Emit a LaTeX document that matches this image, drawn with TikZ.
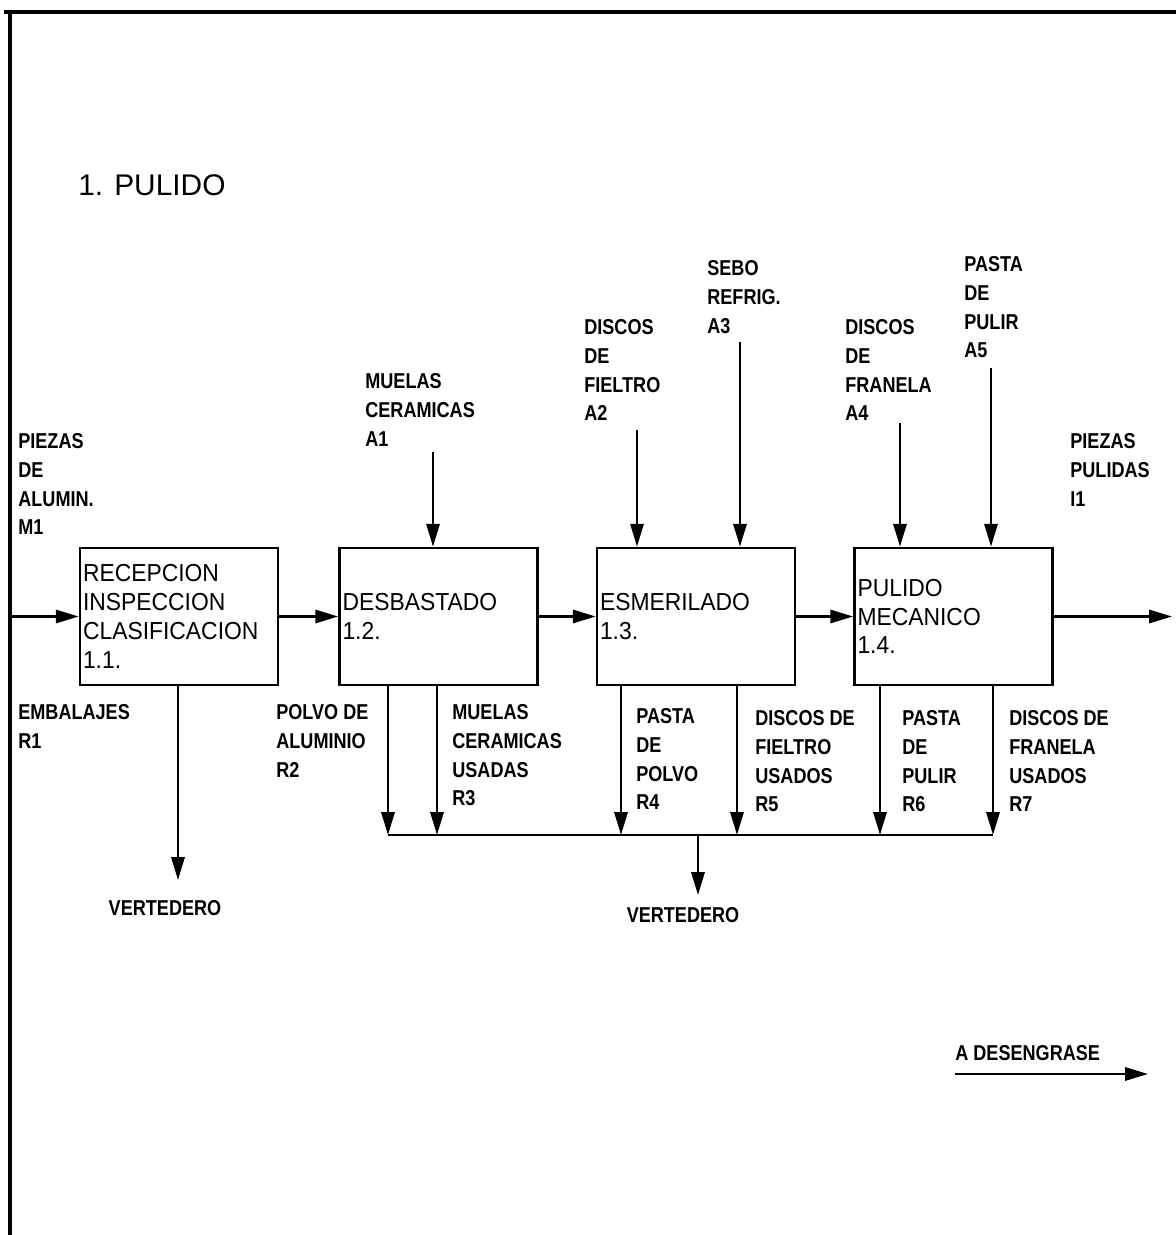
\documentclass[tikz,border=0pt]{standalone}
\usepackage{fontspec}
\setmainfont{Liberation Sans}
\newfontfamily\lblfont{Liberation Sans Bold}[FakeStretch=0.84]
\newfontfamily\boxfont{Liberation Sans}[FakeStretch=0.93]
\newfontfamily\titlefont{Liberation Sans}
\usetikzlibrary{arrows.meta}

\begin{document}
\begin{tikzpicture}[x=0.02cm,y=-0.02cm,
    proc/.style={draw,line width=1.5pt,minimum width=3.96cm,minimum height=2.74cm,
      text width=3.84cm,inner xsep=0.06cm,inner ysep=0pt,align=left,
      font={\boxfont\fontsize{14}{16.4}\selectfont}},
    lbl/.style={anchor=north west,inner sep=0pt,align=left,
      font={\lblfont\fontsize{12.25}{16.4}\selectfont}},
    flow/.style={line width=1.4pt,-{Triangle[length=13pt,width=7.5pt]}},
    line/.style={line width=1.4pt}]
    \useasboundingbox (0,0) rectangle (1176,1235);
    \draw[line width=2pt] (4,12) -- (1176,12);
    \draw[line width=2pt] (10,12) -- (10,1235);
    \node[anchor=west,inner sep=0pt,font={\titlefont\fontsize{17}{20}\selectfont}] (title) at (78,185) {1. PULIDO};

    \node[proc] (b1) at (179,616.5) {RECEPCION\\INSPECCION\\CLASIFICACION\\1.1.};
    \node[proc] (b2) at (438.5,616.5) {DESBASTADO\\1.2.};
    \node[proc] (b3) at (696,616.5) {ESMERILADO\\1.3.};
    \node[proc] (b4) at (953.5,616.5) {PULIDO\\MECANICO\\1.4.};

    \coordinate (in) at (10,616.5);
    \coordinate (out) at (1172,616.5);
    \draw[flow] (in) -- (b1.west);
    \foreach \p/\q in {b1/b2,b2/b3,b3/b4}{\draw[flow] (\p.east) -- (\q.west);}
    \draw[flow] (b4.east) -- (out);

    \foreach \c/\x/\y/\b in {a1/433/452/b2,a2/637/430/b3,a3/740/342/b3,a4/900/423/b4,a5/991/368/b4}{
      \coordinate (\c) at (\x,\y);
      \draw[flow] (\c) -- (\c |- \b.north);
    }

    \coordinate (v1) at (178,880);
    \draw[flow] (v1 |- b1.south) -- (v1);
    \foreach \c/\x/\b in {r2/388/b2,r3/437/b2,r4/621/b3,r5/737/b3,r6/880/b4,r7/993/b4}{
      \coordinate (\c) at (\x,835);
      \draw[flow] (\c |- \b.south) -- (\c);
    }
    \draw[line] (r2) -- (r7);
    \coordinate (v2) at (698,895);
    \draw[flow] (v2 |- r2) -- (v2);

    \node[lbl] (m1l) at (18,433) {PIEZAS\\DE\\ALUMIN.\\M1};
    \node[lbl] (a1l) at (365,373) {MUELAS\\CERAMICAS\\A1};
    \node[lbl] (a2l) at (584,319) {DISCOS\\DE\\FIELTRO\\A2};
    \node[lbl] (a3l) at (707,260) {SEBO\\REFRIG.\\A3};
    \node[lbl] (a4l) at (845,319) {DISCOS\\DE\\FRANELA\\A4};
    \node[lbl] (a5l) at (964,256) {PASTA\\DE\\PULIR\\A5};
    \node[lbl] (i1l) at (1070,433) {PIEZAS\\PULIDAS\\I1};
    \node[lbl] (r1l) at (18,704) {EMBALAJES\\R1};
    \node[lbl] (r2l) at (276,704) {POLVO DE\\ALUMINIO\\R2};
    \node[lbl] (r3l) at (452,704) {MUELAS\\CERAMICAS\\USADAS\\R3};
    \node[lbl] (r4l) at (636,708) {PASTA\\DE\\POLVO\\R4};
    \node[lbl] (r5l) at (755,710) {DISCOS DE\\FIELTRO\\USADOS\\R5};
    \node[lbl] (r6l) at (902,710) {PASTA\\DE\\PULIR\\R6};
    \node[lbl] (r7l) at (1009,710) {DISCOS DE\\FRANELA\\USADOS\\R7};
    \node[lbl,anchor=center] (v1l) at (165,908) {VERTEDERO};
    \node[lbl,anchor=center] (v2l) at (683,915) {VERTEDERO};

    \node[lbl,anchor=west] (desl) at (955,1053) {A DESENGRASE};
    \coordinate (d0) at (955,1074);
    \coordinate (d1) at (1148,1074);
    \draw[flow] (d0) -- (d1);
  \end{tikzpicture}
\end{document}
